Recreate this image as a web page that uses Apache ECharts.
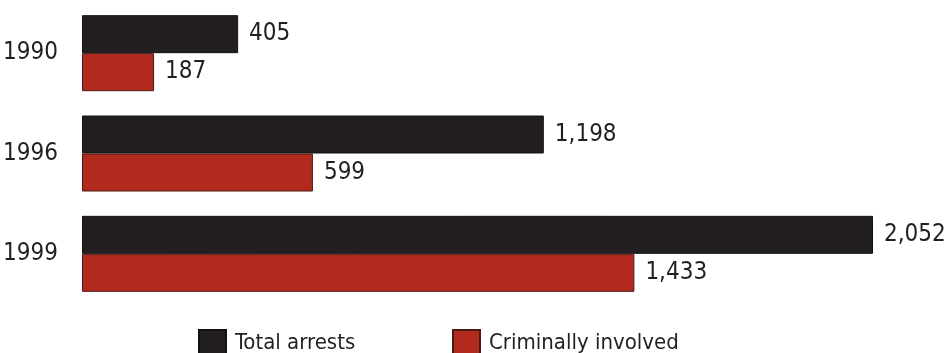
<!DOCTYPE html>
<html>
<head>
<meta charset="utf-8">
<script src="https://cdn.jsdelivr.net/npm/echarts@6/dist/echarts.min.js"></script>
<style>
  html, body { margin: 0; padding: 0; background: #fff; }
  #chart { width: 945px; height: 353px; }
</style>
</head>
<body>
<div id="chart"></div>
<script>
// data
const years = ['1990', '1996', '1999'];
const totalArrests = [405, 1198, 2052];
const criminallyInvolved = [187, 599, 1433];

const FONT = '"Liberation Sans Narrow", "DejaVu Sans Condensed", "Roboto", sans-serif';
const INK = '#231f20';

const chart = echarts.init(document.getElementById('chart'));

const fmt = (p) => p.value.toLocaleString('en-US');

chart.setOption({
  animation: false,
  textStyle: { fontFamily: FONT },
  grid: { left: 82, width: 791, top: 3, height: 301, containLabel: false },
  legend: [
    {
      data: ['Total arrests'],
      icon: 'rect',
      left: 193, top: 324,
      itemWidth: 27, itemHeight: 27,
      textStyle: { fontFamily: FONT, fontSize: 22, color: INK, padding: [0, 0, 0, 4] }
    },
    {
      data: ['Criminally involved'],
      icon: 'rect',
      left: 447, top: 324,
      itemWidth: 27, itemHeight: 27,
      textStyle: { fontFamily: FONT, fontSize: 22, color: INK, padding: [0, 0, 0, 4] }
    }
  ],
  xAxis: {
    type: 'value', min: 0, max: 2052,
    show: false
  },
  yAxis: {
    type: 'category',
    data: years,
    inverse: true,
    axisLine: { show: false },
    axisTick: { show: false },
    axisLabel: { fontFamily: FONT, fontSize: 24, color: INK, margin: 24 }
  },
  series: [
    {
      name: 'Total arrests',
      type: 'bar',
      data: totalArrests,
      barWidth: 38,
      barGap: '0%',
      itemStyle: { color: INK, borderColor: '#111', borderWidth: 1 },
      label: { show: true, position: 'right', distance: 11, formatter: fmt,
               fontFamily: FONT, fontSize: 24, color: INK }
    },
    {
      name: 'Criminally involved',
      type: 'bar',
      data: criminallyInvolved,
      barWidth: 38,
      itemStyle: { color: '#b22a1e', borderColor: '#4a1a14', borderWidth: 1 },
      label: { show: true, position: 'right', distance: 11, formatter: fmt,
               fontFamily: FONT, fontSize: 24, color: INK }
    }
  ]
});
</script>
</body>
</html>
